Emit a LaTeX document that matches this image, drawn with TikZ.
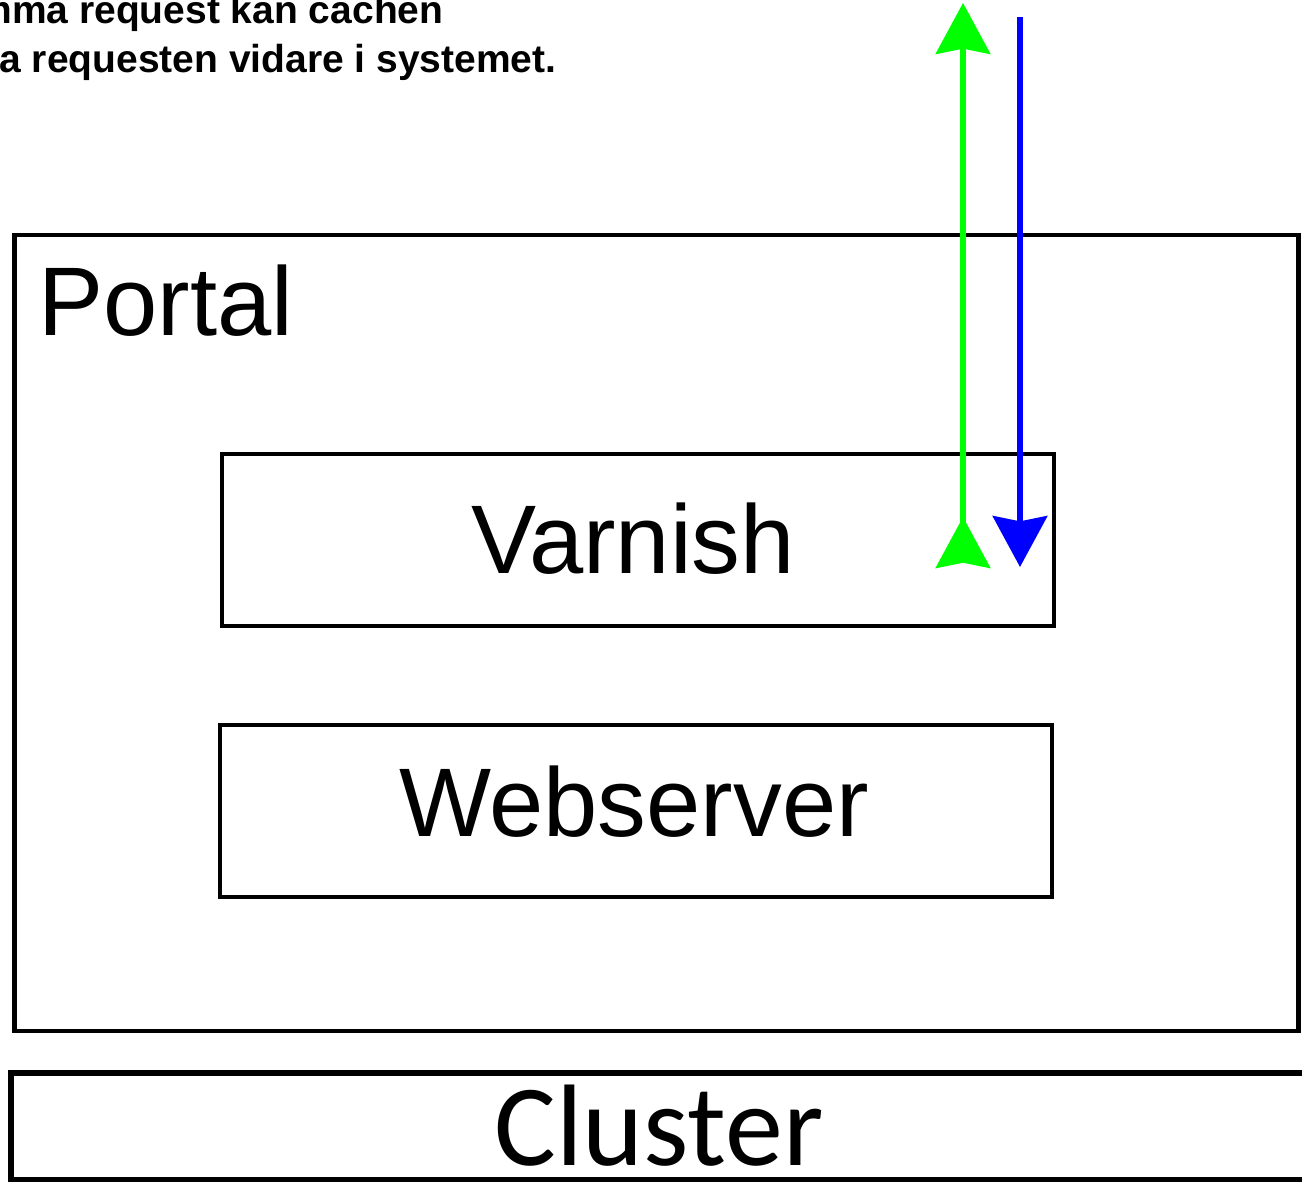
\documentclass[tikz,border=0pt]{standalone}
\usepackage{fontspec}
\setmainfont{Liberation Sans}
\newfontfamily\clusterfont{Carlito}
\usetikzlibrary{arrows.meta}
\definecolor{reqgreen}{RGB}{0,255,0}
\definecolor{respblue}{RGB}{0,0,255}
\tikzset{
  box/.style={draw=black, line width=2.6pt, inner sep=0pt},
  boxlabel/.style={inner sep=0pt, font=\fontsize{55.5}{66}\selectfont},
  note/.style={inner sep=0pt, anchor=base west, font=\bfseries\fontsize{22.2}{26}\selectfont},
  flow/.style={line width=3pt},
}

\begin{document}
\begin{tikzpicture}[x=0.02cm, y=-0.02cm]
			%%%%% START %%%%%
			\useasboundingbox (0,0) rectangle (1302,1182);
			\clip (0,0) rectangle (1302,1182);
			
			\node[note] (note1) at (-23,24) {mma request kan cachen};
			\node[note] (note2) at (-1,73) {a requesten vidare i systemet.};
			
			\node[box, minimum width=25.68cm, minimum height=15.92cm] (portal) at (656.5,633) {};
			\node[boxlabel, anchor=base west] (portallbl) at (38,336) {Portal};
			
			\node[box, minimum width=16.64cm, minimum height=3.44cm] (varnish) at (638,540) {};
			\node[boxlabel, anchor=base] (varnishlbl) at (633,573) {Varnish};
			
			\node[box, minimum width=16.64cm, minimum height=3.44cm] (webserver) at (636,811) {};
			\node[boxlabel, anchor=base] (webserverlbl) at (634,836) {Webserver};
			
			\node[box, line width=3.2pt, minimum width=26.38cm, minimum height=2.14cm] (cluster) at (670.5,1126.5) {};
			\node[boxlabel, anchor=base, font=\clusterfont\fontsize{66}{78}\selectfont] (clusterlbl) at (659,1165) {Cluster};
			
			% request up, response down
			\coordinate (reqin) at (963,568);
			\coordinate (reqout) at (963,3);
			\coordinate (respin) at (1020,17);
			\coordinate (respout) at (1020,567);
			\draw[flow, draw=reqgreen, fill=reqgreen, {Stealth[reversed, length=29pt, width=31pt, inset=3pt]}-{Stealth[length=29pt, width=31pt, inset=3pt]}] (reqin) -- (reqout);
			\draw[flow, draw=respblue, fill=respblue, -{Stealth[length=29pt, width=31pt, inset=3pt]}] (respin) -- (respout);
			
			%%%%% END %%%%%
		\end{tikzpicture}
\end{document}
